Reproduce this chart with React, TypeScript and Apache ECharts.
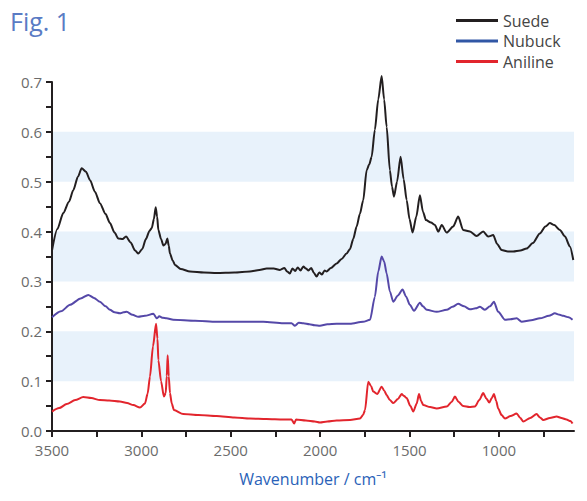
import React, { useEffect, useRef } from "react";
import * as echarts from "echarts";

const seriesNames = ["Suede", "Nubuck", "Aniline"];
const lineColors = ["#231f20", "#5548a8", "#e2252d"];
const legendColors = ["#231f20", "#3157a5", "#e2252d"];

const xTickValues = [3500, 3250, 3000, 2750, 2500, 2250, 2000, 1750, 1500, 1250, 1000, 750];
const xLabelValues = [3500, 3000, 2500, 2000, 1500, 1000];

const suede: [number, number][] = [
  [3500, 0.362], [3470, 0.405], [3437, 0.437], [3405, 0.46], [3381, 0.483], [3355, 0.51], [3334, 0.527],
  [3310, 0.52], [3287, 0.503], [3260, 0.48], [3232, 0.457], [3200, 0.435], [3176, 0.417], [3150, 0.398],
  [3129, 0.386], [3105, 0.385], [3086, 0.39], [3060, 0.378], [3035, 0.362], [3017, 0.356], [2995, 0.365],
  [2975, 0.385], [2955, 0.401], [2942, 0.407], [2930, 0.425], [2920, 0.449], [2912, 0.43], [2905, 0.403],
  [2890, 0.385], [2877, 0.372], [2865, 0.375], [2855, 0.386], [2847, 0.372], [2840, 0.356], [2825, 0.342],
  [2812, 0.333], [2780, 0.325], [2728, 0.32], [2650, 0.318], [2579, 0.317], [2480, 0.318], [2393, 0.32],
  [2340, 0.323], [2299, 0.326], [2260, 0.326], [2225, 0.323], [2200, 0.327], [2185, 0.32], [2169, 0.316],
  [2155, 0.326], [2140, 0.321], [2125, 0.328], [2110, 0.322], [2094, 0.33], [2080, 0.326], [2065, 0.322],
  [2050, 0.327], [2035, 0.317], [2020, 0.31], [2005, 0.318], [1990, 0.314], [1975, 0.322], [1964, 0.32],
  [1940, 0.327], [1908, 0.336], [1880, 0.345], [1852, 0.356], [1833, 0.365], [1815, 0.385], [1796, 0.41],
  [1778, 0.435], [1759, 0.463], [1740, 0.523], [1725, 0.535], [1712, 0.55], [1694, 0.604], [1675, 0.665],
  [1656, 0.712], [1642, 0.665], [1628, 0.61], [1610, 0.523], [1598, 0.49], [1587, 0.47], [1570, 0.5],
  [1550, 0.55], [1533, 0.505], [1516, 0.463], [1500, 0.425], [1483, 0.398], [1462, 0.43], [1442, 0.473],
  [1425, 0.44], [1408, 0.423], [1380, 0.418], [1358, 0.413], [1339, 0.4], [1320, 0.413], [1292, 0.398],
  [1256, 0.41], [1228, 0.43], [1200, 0.403], [1162, 0.4], [1125, 0.391], [1088, 0.4], [1060, 0.39],
  [1032, 0.393], [1010, 0.375], [985, 0.363], [950, 0.36], [920, 0.36], [880, 0.362], [845, 0.366],
  [810, 0.377], [771, 0.396], [740, 0.41], [715, 0.417], [690, 0.413], [659, 0.403], [630, 0.39],
  [603, 0.37], [584, 0.343]
];

const nubuck: [number, number][] = [
  [3500, 0.228], [3450, 0.24], [3399, 0.253], [3340, 0.266], [3297, 0.273], [3265, 0.267], [3232, 0.259],
  [3200, 0.25], [3176, 0.243], [3150, 0.238], [3120, 0.236], [3100, 0.238], [3082, 0.239], [3050, 0.233],
  [3017, 0.229], [2980, 0.231], [2933, 0.235], [2914, 0.226], [2900, 0.23], [2880, 0.227], [2859, 0.226],
  [2822, 0.223], [2700, 0.221], [2579, 0.219], [2450, 0.219], [2318, 0.219], [2206, 0.216], [2160, 0.216],
  [2141, 0.211], [2120, 0.217], [2094, 0.216], [2060, 0.214], [2030, 0.212], [2001, 0.211], [1960, 0.214],
  [1908, 0.215], [1833, 0.215], [1760, 0.219], [1721, 0.223], [1694, 0.269], [1675, 0.32], [1656, 0.35],
  [1642, 0.34], [1628, 0.316], [1610, 0.28], [1591, 0.259], [1565, 0.272], [1539, 0.284], [1520, 0.27],
  [1498, 0.253], [1475, 0.241], [1442, 0.257], [1425, 0.25], [1404, 0.243], [1348, 0.239], [1292, 0.243],
  [1260, 0.249], [1228, 0.255], [1195, 0.25], [1162, 0.244], [1130, 0.246], [1106, 0.249], [1078, 0.243],
  [1050, 0.25], [1028, 0.259], [1004, 0.239], [966, 0.223], [935, 0.224], [901, 0.226], [873, 0.219],
  [820, 0.222], [771, 0.226], [720, 0.231], [687, 0.236], [660, 0.233], [640, 0.231], [610, 0.228],
  [588, 0.223]
];

const aniline: [number, number][] = [
  [3500, 0.039], [3460, 0.046], [3418, 0.054], [3370, 0.062], [3325, 0.068], [3280, 0.066], [3232, 0.062],
  [3180, 0.061], [3120, 0.059], [3080, 0.056], [3045, 0.052], [3008, 0.047], [2980, 0.055], [2965, 0.075],
  [2952, 0.109], [2935, 0.17], [2918, 0.215], [2910, 0.185], [2905, 0.142], [2890, 0.1], [2874, 0.069],
  [2864, 0.076], [2858, 0.11], [2853, 0.152], [2847, 0.11], [2840, 0.076], [2830, 0.055], [2818, 0.042],
  [2766, 0.034], [2680, 0.032], [2579, 0.03], [2480, 0.027], [2393, 0.025], [2300, 0.024], [2206, 0.023],
  [2160, 0.023], [2145, 0.015], [2135, 0.023], [2080, 0.021], [2030, 0.019], [2001, 0.017], [1960, 0.019],
  [1908, 0.021], [1833, 0.022], [1777, 0.025], [1760, 0.032], [1749, 0.042], [1731, 0.099], [1715, 0.09],
  [1703, 0.079], [1681, 0.074], [1656, 0.089], [1640, 0.08], [1628, 0.072], [1610, 0.062], [1591, 0.056],
  [1565, 0.064], [1544, 0.074], [1530, 0.07], [1516, 0.066], [1495, 0.05], [1479, 0.039], [1460, 0.055],
  [1447, 0.074], [1435, 0.06], [1423, 0.052], [1385, 0.048], [1348, 0.045], [1292, 0.049], [1265, 0.058],
  [1246, 0.069], [1225, 0.058], [1200, 0.05], [1165, 0.048], [1134, 0.049], [1110, 0.062], [1088, 0.076],
  [1070, 0.065], [1054, 0.057], [1040, 0.066], [1028, 0.074], [1015, 0.06], [1004, 0.045], [985, 0.032],
  [966, 0.025], [935, 0.03], [901, 0.035], [880, 0.026], [864, 0.019], [825, 0.026], [789, 0.034],
  [770, 0.027], [752, 0.022], [715, 0.026], [677, 0.029], [650, 0.026], [622, 0.023], [600, 0.02],
  [588, 0.015]
];

const seriesData = [suede, nubuck, aniline];

export default function App() {
  const ref = useRef<HTMLDivElement>(null);
  useEffect(() => {
    if (!ref.current) return;
    const chart = echarts.init(ref.current, null, { renderer: "svg" });
    const textColor = "#6b6b6b";
    chart.setOption({
      animation: false,
      backgroundColor: "#ffffff",
      title: {
        text: "Fig. 1",
        left: 5,
        top: 3,
        textStyle: { color: "#5a7bc4", fontSize: 25, fontWeight: "normal", fontFamily: "Open Sans" },
      },
      legend: {
        orient: "vertical",
        left: 451,
        top: 6,
        icon: "rect",
        itemWidth: 42,
        itemHeight: 3,
        itemGap: 1.5,
        textStyle: { color: "#454545", fontSize: 16, fontFamily: "Open Sans", lineHeight: 19, padding: [0, 0, 0, 0] },
        data: seriesNames.map((n, i) => ({ name: n, itemStyle: { color: legendColors[i] } })),
      },
      grid: { left: 52, right: 13, top: 82, bottom: 70 },
      xAxis: {
        type: "value",
        inverse: true,
        min: 580,
        max: 3500,
        name: "Wavenumber / cm⁻¹",
        nameLocation: "middle",
        nameGap: 40,
        nameTextStyle: { color: "#2a62b8", fontSize: 16, fontFamily: "Open Sans" },
        axisLine: { show: true, onZero: false, lineStyle: { color: "#231f20", width: 2 } },
        axisTick: { show: true, length: 6, customValues: xTickValues, lineStyle: { color: "#231f20", width: 2 } },
        axisLabel: {
          customValues: xLabelValues,
          color: textColor,
          fontSize: 15,
          margin: 11,
          fontFamily: "Open Sans",
          formatter: (v: number) => String(v),
        },
        splitLine: { show: false },
      },
      yAxis: {
        type: "value",
        min: 0,
        max: 0.7,
        interval: 0.1,
        axisLine: { show: true, lineStyle: { color: "#231f20", width: 2 } },
        axisTick: { show: true, length: 6, lineStyle: { color: "#231f20", width: 2 } },
        minorTick: { show: true, splitNumber: 2, length: 6, lineStyle: { color: "#231f20", width: 2 } },
        axisLabel: {
          color: textColor,
          fontSize: 15,
          margin: 10,
          fontFamily: "Open Sans",
          formatter: (v: number) => v.toFixed(1),
        },
        splitLine: { show: false },
        splitArea: { show: true, areaStyle: { color: ["rgba(0,0,0,0)", "#e8f2fb"] } },
      },
      series: seriesNames.map((n, i) => ({
        name: n,
        type: "line",
        data: seriesData[i],
        showSymbol: false,
        symbol: "none",
        smooth: 0.25,
        smoothMonotone: "x",
        clip: false,
        lineStyle: { color: lineColors[i], width: 2 },
        itemStyle: { color: lineColors[i] },
        z: 3 - i + 2,
      })),
    });
    return () => chart.dispose();
  }, []);
  return <div ref={ref} style={{ width: 587, height: 501, position: "absolute", left: 0, top: 0 }} />;
}
